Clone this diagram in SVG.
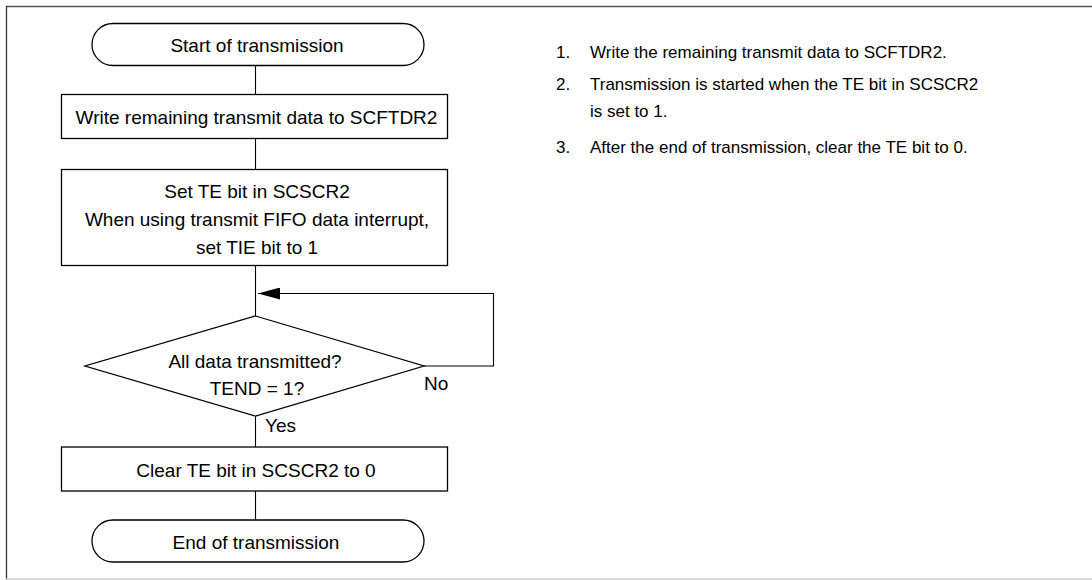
<svg xmlns="http://www.w3.org/2000/svg" width="1092" height="580" viewBox="0 0 1092 580">
<style>
.s{fill:#fff;stroke:#000;stroke-width:1.3}
.c{fill:none;stroke:#000;stroke-width:1.1}
.t{font-family:"Liberation Sans",Arial,sans-serif;font-size:19px;fill:#000;text-anchor:middle}
.l{font-family:"Liberation Sans",Arial,sans-serif;font-size:19px;fill:#000}
.n{font-family:"Liberation Sans",Arial,sans-serif;font-size:17px;fill:#000}
</style>
<defs>
<marker id="ah" markerWidth="22" markerHeight="12" refX="22" refY="6" orient="auto" markerUnits="userSpaceOnUse">
<path d="M0,0 L22,6 L0,12 Z" fill="#000"/>
</marker>
</defs>
<rect width="1092" height="580" fill="#fff"/>
<g id="frame">
<line x1="6" y1="6.5" x2="1092" y2="6.5" stroke="#555" stroke-width="1.5"/>
<line x1="6.5" y1="6" x2="6.5" y2="580" stroke="#333" stroke-width="1.3"/>
<line x1="6" y1="579" x2="1092" y2="579" stroke="#ccc" stroke-width="1.3"/>
</g>
<g id="connectors">
<line class="c" x1="255.5" y1="66" x2="255.5" y2="94"/>
<line class="c" x1="255.5" y1="139" x2="255.5" y2="169"/>
<line class="c" x1="255.5" y1="266" x2="255.5" y2="316"/>
<polyline class="c" points="424,366 493.5,366 493.5,293.5 258,293.5" marker-end="url(#ah)"/>
<line class="c" x1="255.5" y1="416" x2="255.5" y2="447"/>
<line class="c" x1="255.5" y1="491" x2="255.5" y2="520"/>
</g>
<g id="start">
<rect class="s" x="92" y="23.5" width="332" height="42" rx="21" ry="21"/>
<text class="t" x="257" y="52">Start of transmission</text>
</g>
<g id="write">
<rect class="s" x="61.5" y="94.5" width="386" height="44"/>
<text class="t" x="256.5" y="124">Write remaining transmit data to SCFTDR2</text>
</g>
<g id="setTE">
<rect class="s" x="61.5" y="169.5" width="386" height="96"/>
<text class="t" x="257" y="198">Set TE bit in SCSCR2</text>
<text class="t" x="257" y="226">When using transmit FIFO data interrupt,</text>
<text class="t" x="257" y="254">set TIE bit to 1</text>
</g>
<g id="decision">
<polygon class="s" points="255.5,316 424,366 255.5,416 85,366"/>
<text class="t" x="255" y="368">All data transmitted?</text>
<text class="t" x="257" y="395">TEND = 1?</text>
<text class="l" x="424" y="390">No</text>
<text class="l" x="265" y="432">Yes</text>
</g>
<g id="clearTE">
<rect class="s" x="61.5" y="447" width="386" height="44"/>
<text class="t" x="256" y="477">Clear TE bit in SCSCR2 to 0</text>
</g>
<g id="end">
<rect class="s" x="92" y="520" width="332" height="42" rx="21" ry="21"/>
<text class="t" x="256" y="549">End of transmission</text>
</g>
<g id="notes">
<text class="n" x="556" y="58">1.</text>
<text class="n" x="590" y="58">Write the remaining transmit data to SCFTDR2.</text>
<text class="n" x="556" y="90">2.</text>
<text class="n" x="590" y="90">Transmission is started when the TE bit in SCSCR2</text>
<text class="n" x="590" y="117">is set to 1.</text>
<text class="n" x="556" y="153">3.</text>
<text class="n" x="590" y="153">After the end of transmission, clear the TE bit to 0.</text>
</g>
</svg>
